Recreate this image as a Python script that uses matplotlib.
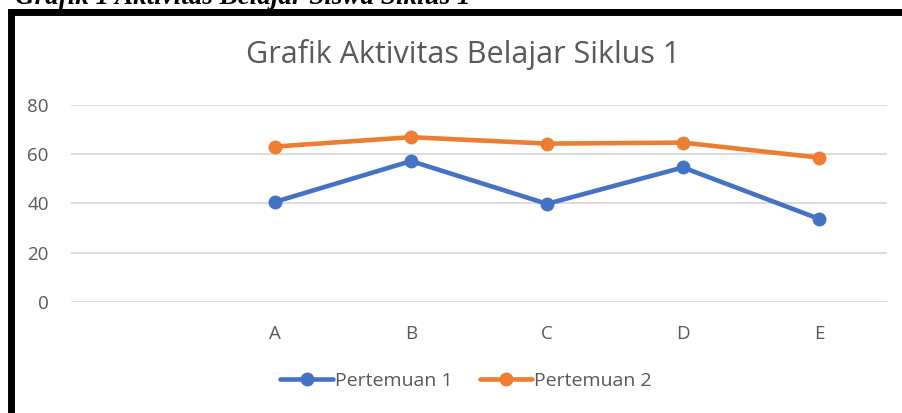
import matplotlib
matplotlib.use("Agg")
import matplotlib.pyplot as plt
from matplotlib.patches import Rectangle

# data
categories = ["", "A", "B", "C", "D", "E"]
pertemuan_1 = [None, 40.6, 57.2, 39.8, 54.6, 33.7]
pertemuan_2 = [None, 63.1, 66.9, 64.3, 64.7, 58.6]
y_ticks = [0, 20, 40, 60, 80]

W, H = 903, 413
fig = plt.figure(figsize=(W / 100, H / 100), dpi=100)

font = "Open Sans"
grey = "#595959"

# caption of the document, cut off at the top
fig.text(15 / W, 1 - 4 / H, "Grafik 1 Aktivitas Belajar Siswa Siklus 1",
         family="Liberation Serif", weight="bold", style="italic",
         fontsize=19.5, va="baseline", ha="left", color="black")

# black frame around the chart
fig.patches.append(Rectangle((11.5 / W, -0.2), 1.5, 1 - 11.5 / H + 0.2,
                             transform=fig.transFigure, fill=False,
                             edgecolor="black", linewidth=5, zorder=0))

ax = fig.add_axes([71 / W, 1 - 301.7 / H, 816 / W, 196.7 / H])

x = list(range(len(categories)))
ax.plot(x, pertemuan_1, color="#4472C4", lw=3.3, marker="o", ms=9,
        label="Pertemuan 1", solid_capstyle="round")
ax.plot(x, pertemuan_2, color="#ED7D31", lw=3.3, marker="o", ms=9,
        label="Pertemuan 2", solid_capstyle="round")

ax.set_xlim(-0.5, len(categories) - 0.5)
ax.set_ylim(0, 80)
ax.set_yticks(y_ticks)
ax.set_xticks(x)
ax.set_xticklabels(categories)
ax.grid(axis="y", color="#D9D9D9", lw=1.3)
ax.set_axisbelow(True)
for s in ax.spines.values():
    s.set_visible(False)
ax.tick_params(length=0, labelsize=13.5, labelcolor=grey)
ax.tick_params(axis="y", pad=16)
ax.tick_params(axis="x", pad=17)
for lab in ax.get_xticklabels() + ax.get_yticklabels():
    lab.set_family(font)

fig.text(463 / W, 1 - 55 / H, "Grafik Aktivitas Belajar Siklus 1",
         family=font, fontsize=22, color=grey, ha="center", va="center")

fig.legend(loc="center", bbox_to_anchor=(466 / W, 1 - 381 / H), ncol=2,
           frameon=False, prop={"family": font, "size": 14},
           labelcolor=grey, handlelength=2.7, columnspacing=1.4,
           handletextpad=0.1)

fig.savefig("out.png", dpi=100)
